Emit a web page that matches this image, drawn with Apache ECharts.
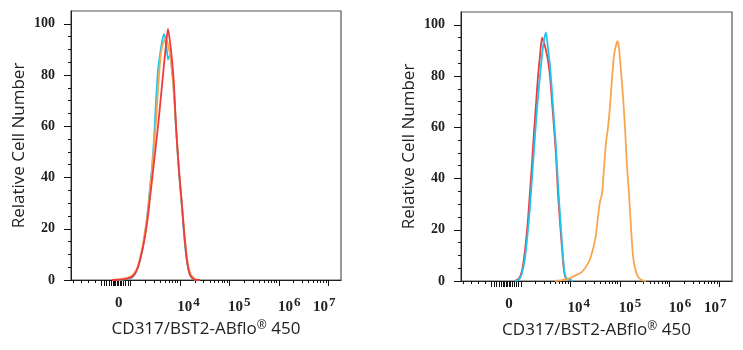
<!DOCTYPE html>
<html>
<head>
<meta charset="utf-8">
<script src="https://cdn.jsdelivr.net/npm/echarts@6/dist/echarts.min.js"></script>
<style>
  html, body { margin: 0; padding: 0; background: #fff; }
  #main { width: 743px; height: 350px; }
</style>
</head>
<body>
<div id="main"></div>
<script>
// x values are in display decades of the biexponential axis (10^4 -> 4, 10^5 -> 5 ...)
var zeroPos = 2.76;
var decadePos = [4, 5, 6, 7];
var xTickText = ['0', '10|4', '10|5', '10|6', '10|7'];
var yTicks = [0, 20, 40, 60, 80, 100];

// left panel: all three histograms overlap
var leftX = [2.624, 2.746, 2.867, 2.988, 3.070, 3.150, 3.231, 3.292, 3.353, 3.393, 3.434, 3.474, 3.515, 3.555, 3.596, 3.636, 3.676, 3.717, 3.757, 3.798, 3.838, 3.879, 3.919, 3.960, 4.000, 4.041, 4.081, 4.121, 4.162, 4.202, 4.263, 4.324, 4.405];
var leftCyan   = [0, 0, 0.2, 0.6, 1.8, 5, 11, 18, 28, 36, 44, 55, 70, 82, 88, 93, 96, 93, 86, 88, 82, 73, 60, 47, 37, 28, 18, 10, 5, 2, 0.5, 0, 0];
var leftOrange = [0, 0.3, 0.5, 1.2, 2.5, 5.5, 12, 19, 27, 35, 43, 52, 62, 74, 85, 91, 93, 94.5, 92, 88, 82, 72, 60, 48, 38, 29, 20, 12, 6, 3, 1, 0.3, 0];
var leftRed    = [0, 0, 0.3, 0.8, 2, 5, 11, 17, 25, 32, 39, 46, 53, 60, 68, 76, 84, 92, 98, 93, 86, 76, 60, 48, 38, 29, 19, 11, 5, 2, 0.5, 0, 0];

// right panel: controls stay low, stained sample shifts up
var rightX = [2.883, 2.964, 3.024, 3.085, 3.145, 3.186, 3.226, 3.266, 3.307, 3.347, 3.387, 3.427, 3.468, 3.508, 3.548, 3.589, 3.629, 3.669, 3.710, 3.750, 3.790, 3.830, 3.871, 3.911, 3.972, 4.052];
var rightRed  = [0, 1, 4, 12, 24, 35, 46, 58, 69, 80, 88, 95, 93, 90, 86, 80, 70, 60, 49, 34, 23, 13, 4, 1, 0.5, 0];
var rightCyan = [0, 0.5, 3, 9, 20, 29, 40, 51, 62, 72, 80, 88, 94, 97, 91, 84, 74, 63, 52, 38, 26, 15, 5, 1.2, 0.6, 0];
var orangeX = [3.689, 3.830, 3.951, 4.052, 4.133, 4.213, 4.274, 4.334, 4.395, 4.435, 4.475, 4.516, 4.556, 4.596, 4.637, 4.677, 4.717, 4.758, 4.798, 4.838, 4.878, 4.919, 4.949, 4.979, 5.020, 5.060, 5.100, 5.140, 5.181, 5.221, 5.261, 5.302, 5.362, 5.443, 5.523];
var rightOrange = [0, 0.3, 0.8, 1.7, 2.5, 3.2, 4.5, 6.2, 8.5, 11, 14, 18, 25, 31, 34, 44, 54, 60, 68, 79, 88, 92, 93.6, 91, 82, 72, 60, 45, 34, 21, 10, 5, 1.7, 0.3, 0];

var RED = '#ee3b3e', CYAN = '#1fc4ef', ORANGE = '#f7a64f';

var chart = echarts.init(document.getElementById('main'));

function zip(xs, ys) {
  return xs.map(function (x, i) { return [x, ys[i]]; });
}

// tick marks of the biex axis
var majorTicks = [], minorTicks = [];
[-0.36, -0.3, -0.25, -0.2, -0.16, -0.12, -0.09, -0.06, -0.03, 0, 0.03, 0.06, 0.1, 0.14, 0.19].forEach(function (d) {
  majorTicks.push(zeroPos + d);
});
majorTicks = majorTicks.concat([3], decadePos);
[-0.91, -0.76, -0.62, -0.48].forEach(function (d) { minorTicks.push(zeroPos + d); });
for (var n = 3; n < 7; n++) {
  for (var k = 2; k < 10; k++) minorTicks.push(n + Math.log10(k));
}
// label anchors sit a bit off the ticks, like the original
var labelPos = [zeroPos, 4.17, 5.2, 6.21, 6.92];

var serif = 'Liberation Serif';
var sans = 'Open Sans';

function xAxes(gi) {
  return [{
    type: 'value', gridIndex: gi, position: 'bottom', min: 1.795, max: 7.257,
    name: '{t|CD317/BST2-ABflo}{r|®}{t| 450}', nameLocation: 'middle', nameGap: 40,
    nameTextStyle: {
      rich: {
        t: { fontFamily: sans, fontSize: 17, color: '#222' },
        r: { fontFamily: sans, fontSize: 12, color: '#222', padding: [0, 0, 7, 0] }
      }
    },
    axisLine: { show: true, lineStyle: { color: '#222', width: 1 } },
    axisTick: { show: true, length: 6, customValues: majorTicks, lineStyle: { color: '#111', width: 1 } },
    axisLabel: {
      show: true, margin: 16, customValues: labelPos,
      formatter: function (v) {
        var i = 0;
        labelPos.forEach(function (p, j) { if (Math.abs(p - v) < 0.005) i = j; });
        var t = xTickText[i].split('|');
        return t.length > 1 ? '{b|' + t[0] + '}{s|' + t[1] + '}' : '{b|' + t[0] + '}';
      },
      rich: {
        b: { fontFamily: serif, fontWeight: 'bold', fontSize: 15, color: '#222' },
        s: { fontFamily: serif, fontWeight: 'bold', fontSize: 13, color: '#222', padding: [0, 0, 10, 1] }
      }
    },
    splitLine: { show: false }
  }, {
    type: 'value', gridIndex: gi, position: 'bottom', min: 1.795, max: 7.257,
    axisLine: { show: false },
    axisTick: { show: true, length: 3, customValues: minorTicks, lineStyle: { color: '#111', width: 1 } },
    axisLabel: { show: false },
    splitLine: { show: false }
  }];
}

function yAxes(gi) {
  var minor = [];
  for (var v = 5; v < 105; v += 5) if (v % 20) minor.push(v);
  return [{
    type: 'value', gridIndex: gi, position: 'left', min: 0, max: 105,
    name: 'Relative Cell Number', nameLocation: 'middle', nameGap: 43,
    nameTextStyle: { fontFamily: sans, fontSize: 17, color: '#222' },
    axisLine: { show: true, lineStyle: { color: '#222', width: 1 } },
    axisTick: { show: true, length: 7, customValues: yTicks, lineStyle: { color: '#111', width: 1 } },
    axisLabel: {
      show: true, margin: 16, customValues: yTicks,
      fontFamily: serif, fontWeight: 'bold', fontSize: 14, color: '#222'
    },
    splitLine: { show: false }
  }, {
    type: 'value', gridIndex: gi, position: 'left', min: 0, max: 105,
    axisLine: { show: false },
    axisTick: { show: true, length: 3, customValues: minor, lineStyle: { color: '#111', width: 1 } },
    axisLabel: { show: false },
    splitLine: { show: false }
  }];
}

function line(name, xi, yi, data, color) {
  return {
    name: name, type: 'line', xAxisIndex: xi, yAxisIndex: yi, data: data,
    showSymbol: false, symbol: 'none', smooth: 0.2, animation: false,
    lineStyle: { color: color, width: 1.8 }, z: 3
  };
}

var option = {
  backgroundColor: '#fff',
  animation: false,
  grid: [
    { left: 71, top: 11, width: 270, height: 269, show: true, borderColor: '#555', borderWidth: 1.2, backgroundColor: 'transparent' },
    { left: 461, top: 12, width: 271, height: 269, show: true, borderColor: '#555', borderWidth: 1.2, backgroundColor: 'transparent' }
  ],
  xAxis: xAxes(0).concat(xAxes(1)),
  yAxis: yAxes(0).concat(yAxes(1)),
  series: [
    line('Cyan', 0, 0, zip(leftX, leftCyan), CYAN),
    line('Orange', 0, 0, zip(leftX, leftOrange), ORANGE),
    line('Red', 0, 0, zip(leftX, leftRed), RED),
    line('Red', 2, 2, zip(rightX, rightRed), RED),
    line('Cyan', 2, 2, zip(rightX, rightCyan), CYAN),
    line('Orange', 2, 2, zip(orangeX, rightOrange), ORANGE)
  ]
};

chart.setOption(option);
</script>
</body>
</html>
